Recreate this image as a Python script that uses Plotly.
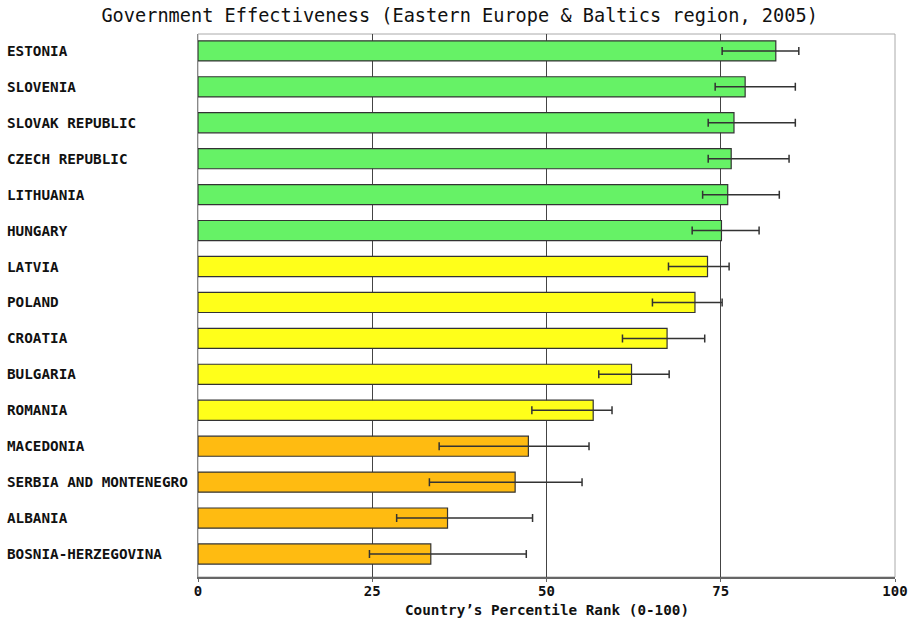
import plotly.graph_objects as go

countries = ["ESTONIA", "SLOVENIA", "SLOVAK REPUBLIC", "CZECH REPUBLIC", "LITHUANIA",
             "HUNGARY", "LATVIA", "POLAND", "CROATIA", "BULGARIA", "ROMANIA",
             "MACEDONIA", "SERBIA AND MONTENEGRO", "ALBANIA", "BOSNIA-HERZEGOVINA"]
rank = [82.9, 78.5, 76.9, 76.5, 76.0, 75.1, 73.1, 71.3, 67.3, 62.2, 56.7, 47.4, 45.5, 35.8, 33.4]
lower = [75.2, 74.2, 73.2, 73.2, 72.4, 70.9, 67.5, 65.2, 60.9, 57.5, 47.9, 34.6, 33.2, 28.5, 24.6]
upper = [86.2, 85.7, 85.7, 84.8, 83.4, 80.5, 76.2, 75.2, 72.7, 67.6, 59.4, 56.1, 55.1, 48.0, 47.1]

GREEN, YELLOW, ORANGE = "#66f266", "#ffff1a", "#ffbb11"


def band_colour(v):
    if v >= 75:
        return GREEN
    if v >= 50:
        return YELLOW
    return ORANGE


colours = [band_colour(v) for v in rank]
err_plus = [u - v for u, v in zip(upper, rank)]
err_minus = [v - l for v, l in zip(rank, lower)]

fig = go.Figure()
fig.add_trace(go.Bar(
    y=countries, x=rank, orientation="h",
    marker=dict(color=colours, line=dict(color="#333333", width=1.2)),
    width=0.56,
    error_x=dict(type="data", symmetric=False, array=err_plus, arrayminus=err_minus,
                 color="#333333", thickness=1.5, width=4),
    hoverinfo="x+y",
))

mono = "DejaVu Sans Mono"
L, R, T, B = 198, 17, 34, 42
plot_w = 912 - L - R
plot_h = 619 - T - B

for name in countries:
    fig.add_annotation(
        x=-(L - 5) / plot_w, xref="paper", y=name, yref="y",
        text="<b>" + name + "</b>", showarrow=False, xanchor="left",
        font=dict(family=mono, size=14.3, color="#111111"),
    )

fig.add_annotation(
    x=0.5, xref="paper", y=-33 / plot_h, yref="paper",
    text="<b>Country\u2019s Percentile Rank (0-100)</b>", showarrow=False,
    xanchor="center", yanchor="middle",
    font=dict(family=mono, size=14.3, color="#111111"),
)

fig.update_layout(
    width=912, height=619,
    margin=dict(l=L, r=R, t=T, b=B, autoexpand=False),
    paper_bgcolor="white", plot_bgcolor="white",
    showlegend=False,
    title=dict(text="Government Effectiveness (Eastern Europe & Baltics region, 2005)",
               x=0.504, xanchor="center", y=1 - 15 / 619, yanchor="middle",
               font=dict(family=mono, size=18.6, color="#111111")),
)
fig.update_xaxes(
    range=[0, 100], tickvals=[0, 25, 50, 75, 100],
    ticktext=["<b>0</b>", "<b>25</b>", "<b>50</b>", "<b>75</b>", "<b>100</b>"],
    showgrid=True, gridcolor="#444444", gridwidth=1.2,
    showline=True, linecolor="#666666", linewidth=1.5, mirror=False,
    ticks="outside", ticklen=3, tickcolor="#666666", ticklabelstandoff=-3,
    tickfont=dict(family=mono, size=14, color="#111111"),
    zeroline=False, automargin=False,
)
fig.update_yaxes(
    range=[14.64, -0.47], showticklabels=False, showgrid=False,
    showline=True, linecolor="#888888", linewidth=1, automargin=False,
)
# thin frame along the top and right of the plotting area
fig.add_shape(type="rect", xref="paper", yref="paper", x0=0, x1=1, y0=0, y1=1,
              line=dict(color="#aaaaaa", width=1), layer="below")

fig.write_html("out.html")
